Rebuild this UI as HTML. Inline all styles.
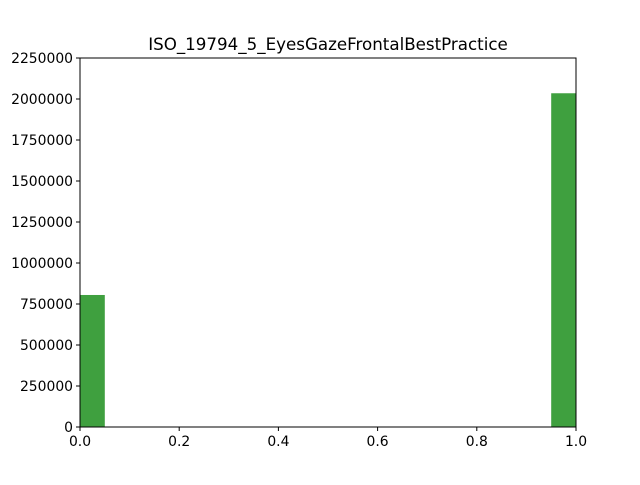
<!DOCTYPE html>
<html><head><meta charset="utf-8"><style>
body{margin:0;background:#fff;}
svg text{font-family:"DejaVu Sans","Liberation Sans",sans-serif;}
</style></head><body>
<svg id="chart" width="640" height="480" xmlns="http://www.w3.org/2000/svg">
<rect x="0" y="0" width="640" height="480" fill="#fff"/>
<text x="328" y="50" font-size="16.7" text-anchor="middle">ISO_19794_5_EyesGazeFrontalBestPractice</text>
<g id="bars"></g>
<g id="axes"></g>
</svg>
<script>
const binStarts = [0, 0.95];
const binWidth = 0.05;
const counts = [805000, 2035000];
const xTicks = [0, 0.2, 0.4, 0.6, 0.8, 1.0];
const xTickLabels = ["0.0","0.2","0.4","0.6","0.8","1.0"];
const yTicks = [0,250000,500000,750000,1000000,1250000,1500000,1750000,2000000,2250000];

const L=80,R=576,T=58,B=427;
const xs=v=>L+(v-0)/(1-0)*(R-L);
const ys=v=>B-v/2250000*(B-T);
const NS="http://www.w3.org/2000/svg";
const bars=document.getElementById('bars'), axes=document.getElementById('axes');
function mk(tag,attrs,parent){const e=document.createElementNS(NS,tag);for(const k in attrs)e.setAttribute(k,attrs[k]);parent.appendChild(e);return e;}
counts.forEach((c,i)=>{
  const r=mk('rect',{x:xs(binStarts[i]),y:ys(c),width:xs(binStarts[i]+binWidth)-xs(binStarts[i]),height:B-ys(c),fill:'#3fa03f'},bars);
  
  
});
const frame=mk('rect',{x:L,y:T,width:R-L,height:B-T,fill:'none',stroke:'#000','stroke-width':1},axes);


xTicks.forEach((v,i)=>{
  const x=xs(v);
  mk('line',{x1:x,x2:x,y1:B,y2:B+4,stroke:'#000'},axes);
  const t=mk('text',{x:x,y:B+19,'font-size':13.9,'text-anchor':'middle'},axes);
  t.textContent=xTickLabels[i];
  
  
});
yTicks.forEach(v=>{
  const y=ys(v);
  mk('line',{x1:L-4,x2:L,y1:y,y2:y,stroke:'#000'},axes);
  const t=mk('text',{x:L-7,y:y+5,'font-size':13.9,'text-anchor':'end'},axes);
  t.textContent=String(v);
  
  
});
</script>
</body></html>
